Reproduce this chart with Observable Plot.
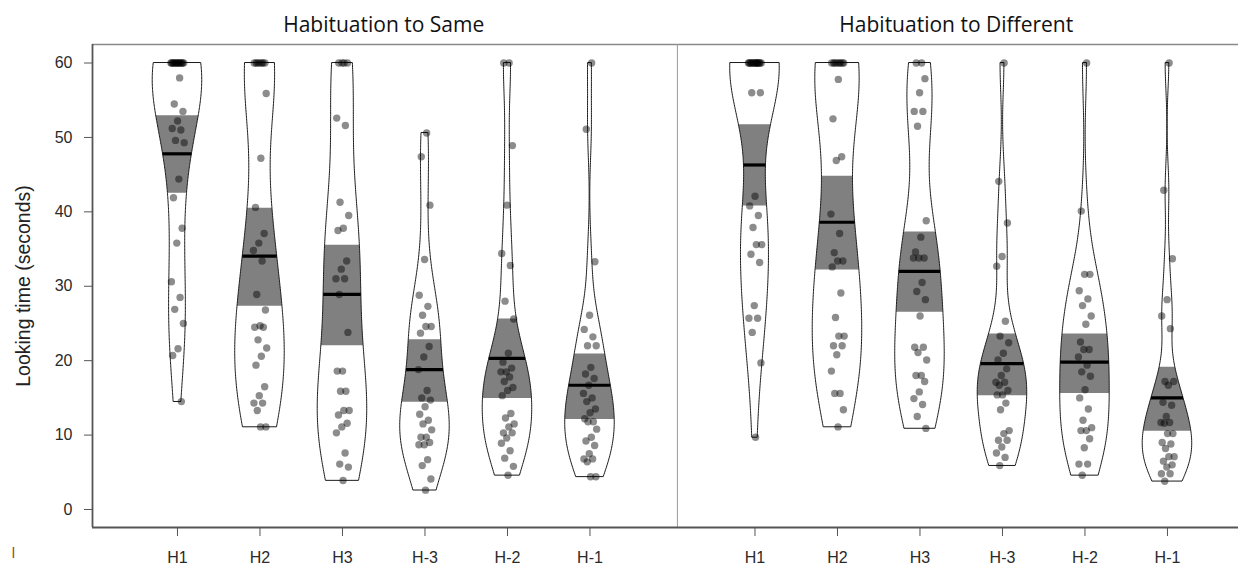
<!DOCTYPE html>
<html>
<head>
<meta charset="utf-8">
<script src="https://cdn.jsdelivr.net/npm/d3@7"></script>
<script src="https://cdn.jsdelivr.net/npm/@observablehq/plot@0.6"></script>
<style>
  html, body { margin: 0; padding: 0; background: #fff; overflow: hidden; }
</style>
</head>
<body>
<div id="chart"></div>
<script>
// ---------- DATA ----------
const categories = ["H1", "H2", "H3", "H-3", "H-2", "H-1"];
const panelTitles = ["Habituation to Same", "Habituation to Different"];
const yTicks = [0, 10, 20, 30, 40, 50, 60];
const yLabel = "Looking time (seconds)";

// Habituation to Same: looking times per trial
const sameH1 = [60, 60, 60, 60, 60, 60, 60, 60, 60, 60, 60, 60, 60,
  58.0, 54.5, 53.5, 52.2, 51.2, 51.0, 49.6, 49.3, 44.4, 41.9, 37.8, 35.8, 30.6, 28.5, 26.9, 25.0, 21.6, 20.7, 14.5];
const sameH2 = [60, 60, 60, 60, 60, 60, 60,
  55.9, 47.2, 40.6, 37.1, 35.8, 34.8, 33.4, 28.9, 26.8, 24.7, 24.5, 24.5, 22.8, 21.7, 20.6, 19.4, 16.5, 15.3, 14.3, 14.3, 13.3, 11.1, 11.1];
const sameH3 = [60, 60, 60, 60,
  52.6, 51.6, 41.3, 39.5, 37.8, 37.5, 33.4, 32.3, 31.0, 31.0, 28.9, 23.8, 18.6, 18.6, 15.9, 15.9, 13.3, 13.3, 12.7, 11.6, 11.1, 10.3, 7.6, 6.1, 5.7, 3.9];
const sameHm3 = [50.6, 47.4, 40.9, 33.6, 28.8, 27.3, 26.1, 24.6, 24.6, 23.7, 21.9, 20.5, 18.8, 16.0, 15.0, 14.7, 13.8, 12.8, 12.0, 11.5,
  10.7, 9.7, 9.7, 9.0, 8.7, 8.7, 6.7, 5.9, 4.1, 2.6];
const sameHm2 = [60, 60, 48.9, 40.9, 34.4, 32.8, 28.0, 25.6, 21.0, 19.8, 19.0, 18.5, 18.5, 17.8, 17.2, 16.4, 16.0, 15.3, 12.9, 12.3,
  11.5, 11.1, 10.3, 10.3, 9.6, 8.9, 7.9, 6.9, 5.8, 4.6];
const sameHm1 = [60, 51.1, 33.3, 26.1, 24.2, 23.2, 22.0, 22.0, 19.1, 18.2, 17.6, 16.7, 15.6, 15.0, 14.5, 13.5, 13.0, 12.2, 11.8, 11.8,
  10.8, 9.7, 9.2, 8.6, 7.5, 6.8, 6.8, 6.4, 4.4, 4.4];

// Habituation to Different: looking times per trial
const diffH1 = [60, 60, 60, 60, 60, 60, 60, 60, 60, 60, 60, 60, 60, 60,
  56.0, 56.0, 42.1, 40.8, 39.5, 37.9, 35.6, 35.6, 34.3, 33.2, 27.4, 25.7, 25.7, 23.8, 19.7, 9.7];
const diffH2 = [60, 60, 60, 60, 60, 60, 60, 60,
  57.8, 52.5, 47.4, 46.9, 39.7, 37.1, 34.5, 33.4, 33.4, 32.6, 29.1, 25.8, 23.3, 23.3, 22.0, 22.0, 20.8, 18.6, 15.6, 15.6, 13.4, 11.1];
const diffH3 = [60, 60,
  57.9, 56.0, 53.5, 53.5, 51.5, 38.8, 36.6, 34.6, 33.8, 33.8, 33.8, 30.5, 29.3, 28.2, 26.0, 21.8, 21.8, 21.1, 20.1, 18.0, 18.0, 17.2,
  15.8, 14.9, 14.1, 12.5, 10.9];
const diffHm3 = [60, 44.1, 38.5, 34.0, 32.7, 25.3, 23.3, 22.4, 21.0, 20.1, 18.9, 18.0, 17.1, 17.1, 16.7, 16.0, 15.4, 15.4, 14.3, 13.4,
  10.6, 10.2, 9.3, 9.3, 8.4, 7.6, 7.0, 5.9];
const diffHm2 = [60, 40.1, 31.6, 31.6, 29.4, 28.3, 27.4, 26.0, 24.9, 22.5, 21.5, 21.5, 20.5, 19.4, 18.5, 17.9, 16.1, 15.0, 13.5, 12.0,
  11.0, 10.6, 10.6, 9.5, 8.3, 6.1, 6.1, 4.6];
const diffHm1 = [60, 42.9, 33.7, 28.2, 26.0, 24.3, 17.2, 17.2, 16.7, 14.4, 14.0, 12.5, 11.7, 11.7, 11.6, 10.2, 10.2, 9.0, 8.8, 8.2,
  7.1, 7.1, 6.5, 6.0, 5.7, 4.8, 4.8, 3.8];

// means and inference bands (lower / upper) per category
const sameMeans = [47.8, 34.05, 28.9, 18.8, 20.3, 16.7];
const sameLower = [42.5, 27.3, 22.0, 14.4, 14.9, 12.1];
const sameUpper = [52.9, 40.5, 35.5, 22.8, 25.6, 20.9];
const diffMeans = [46.3, 38.6, 32.0, 19.6, 19.8, 15.0];
const diffLower = [40.8, 32.2, 26.5, 15.3, 15.6, 10.5];
const diffUpper = [51.7, 44.8, 37.3, 23.6, 23.6, 19.1];

// ---------- BUILD TABLES ----------
const panels = [
  {title: panelTitles[0], series: [sameH1, sameH2, sameH3, sameHm3, sameHm2, sameHm1], means: sameMeans, lower: sameLower, upper: sameUpper},
  {title: panelTitles[1], series: [diffH1, diffH2, diffH3, diffHm3, diffHm2, diffHm1], means: diffMeans, lower: diffLower, upper: diffUpper}
];
const panelOffset = 7;          // category slots between the two panels
const beanHalfWidth = 0.3;      // in x units
const jitterWidth = 0.17;

function nrd0(v) {
  const s = [...v].sort(d3.ascending);
  const sd = d3.deviation(s);
  const iqr = (d3.quantileSorted(s, 0.75) - d3.quantileSorted(s, 0.25)) / 1.34;
  let lo = Math.min(sd, iqr);
  if (!(lo > 0)) lo = sd > 0 ? sd : 1;
  return 0.9 * lo * Math.pow(s.length, -0.2);
}
function density(v, bw, y) {
  let s = 0;
  for (const x of v) { const u = (y - x) / bw; s += Math.exp(-0.5 * u * u); }
  return s / (v.length * bw * Math.sqrt(2 * Math.PI));
}

const beanRows = [], bandRows = [], pointRows = [], meanRows = [], xTickPos = [], xTickLab = new Map(), titleRows = [];
panels.forEach((p, pi) => {
  const positions = categories.map((c, ci) => ci + 1 + pi * panelOffset);
  titleRows.push({x: d3.mean(positions) - pi * 0.06, title: p.title});
  categories.forEach((cat, ci) => {
    const v = p.series[ci];
    const pos = positions[ci];
    xTickPos.push(pos); xTickLab.set(pos, cat);
    const key = p.title + "|" + cat;
    const bw = nrd0(v);
    const lo = d3.min(v), hi = d3.max(v);
    const n = 240;
    const grid = d3.range(n + 1).map(k => lo + (hi - lo) * k / n);
    const dens = grid.map(y => density(v, bw, y));
    const dmax = d3.max(dens);
    const half = y => beanHalfWidth * density(v, bw, y) / dmax;
    grid.forEach((y, k) => {
      const w = beanHalfWidth * dens[k] / dmax;
      beanRows.push({key, y, x1: pos - w, x2: pos + w});
    });
    const bLo = Math.max(p.lower[ci], lo), bHi = Math.min(p.upper[ci], hi);
    const bandYs = [bLo, ...grid.filter(y => y > bLo && y < bHi), bHi];
    bandYs.forEach(y => { const w = half(y); bandRows.push({key, y, x1: pos - w, x2: pos + w}); });
    const m = p.means[ci];
    const wm = half(m);
    meanRows.push({y: m, x1: pos - wm, x2: pos + wm});
    v.forEach((y, k) => {
      const j = (((k + 1) * 0.6180339887) % 1 - 0.5) * jitterWidth;
      pointRows.push({x: pos + j, y});
    });
  });
});

const xDomain = [-0.03, 13.861];
const yDomain = [-2.42, 62.49];
const dividerX = 7.06;

const chart = Plot.plot({
  width: 1238,
  height: 567,
  marginLeft: 92,
  marginRight: 0,
  marginTop: 44,
  marginBottom: 40,
  x: {domain: xDomain},
  y: {domain: yDomain},
  style: {fontFamily: "'Liberation Sans', Arial, sans-serif", fontSize: "16px", background: "#fff", color: "#333"},
  marks: [
    // frame lines
    Plot.ruleY([yDomain[1]], {stroke: "#8a8a8a", strokeWidth: 1.5}),
    Plot.ruleX([dividerX], {stroke: "#9a9a9a", strokeWidth: 1}),
    // beans
    Plot.areaX(beanRows, {y: "y", x1: "x1", x2: "x2", z: "key", fill: "white"}),
    Plot.areaX(bandRows, {y: "y", x1: "x1", x2: "x2", z: "key", fill: "#808080"}),
    Plot.areaX(beanRows, {y: "y", x1: "x1", x2: "x2", z: "key", fill: "none", stroke: "#1a1a1a", strokeWidth: 1}),
    // points
    Plot.dot(pointRows, {x: "x", y: "y", r: 3.7, fill: "black", fillOpacity: 0.45, stroke: "none"}),
    // mean lines
    Plot.ruleY(meanRows, {y: "y", x1: "x1", x2: "x2", stroke: "black", strokeWidth: 3.2}),
    // axes
    Plot.ruleX([xDomain[0]], {stroke: "#555", strokeWidth: 1.8}),
    Plot.ruleY([yDomain[0]], {stroke: "#555", strokeWidth: 1.8}),
    Plot.axisY(yTicks, {tickSize: 8, tickPadding: 12, fontSize: 16, label: null, stroke: "#555", fill: "#2a2a2a"}),
    Plot.axisX(xTickPos, {tickSize: 9, tickPadding: 15, fontSize: 16, label: null, tickFormat: d => xTickLab.get(d), stroke: "#555", fill: "#2a2a2a"}),
    // y label
    Plot.text([yLabel], {frameAnchor: "left", textAnchor: "middle", dx: -68.5, rotate: -90, fontSize: 19.5, fill: "#222"}),
    // panel titles
    Plot.text(titleRows, {x: "x", text: "title", frameAnchor: "top", lineAnchor: "bottom", dy: -12.5,
      fontSize: 21, fill: "#111", fontFamily: "'Open Sans', sans-serif"}),
    // stray mark in the lower-left corner of the original
    Plot.text(["l"], {frameAnchor: "bottom-left", textAnchor: "middle", dx: -79, dy: 30, fontSize: 15, fill: "#9a4a22"})
  ]
});
document.getElementById("chart").appendChild(chart);
</script>
</body>
</html>
